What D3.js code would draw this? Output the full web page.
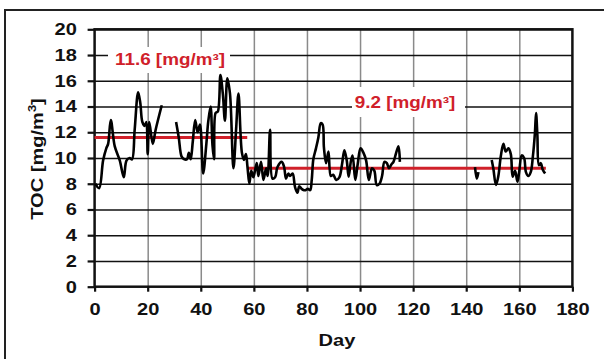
<!DOCTYPE html>
<html><head><meta charset="utf-8">
<script src="https://cdn.jsdelivr.net/npm/d3@7"></script>
<style>
html,body{margin:0;padding:0;background:#fff;}
svg text{font-family:"Liberation Sans",Arial,sans-serif;font-weight:bold;}
</style></head>
<body><svg id="c" width="604" height="359"></svg>
<script>
// ---- data ----
const xTicks = [0,20,40,60,80,100,120,140,160,180];
const yTicks = [0,2,4,6,8,10,12,14,16,18,20];
const days = [0.3,1.7,3.2,4.4,5.1,6.1,7.6,9.5,11.0,12.0,13.2,14.1,15.1,16.4,17.2,18.0,18.9,19.5,20.0,20.6,21.9,23.0,25.3,null,
 30.7,31.7,32.8,33.8,34.8,35.5,36.2,37.0,37.9,38.8,39.7,40.9,42.1,42.8,43.7,44.4,45.0,45.6,46.4,47.4,48.3,49.1,50.0,51.0,52.3,53.3,54.2,55.5,56.3,57.0,57.6,
 58.3,59.0,59.8,60.4,61.1,61.7,62.7,63.6,64.6,65.2,66.1,67.0,68.0,68.9,70.5,71.4,72.1,73.0,73.6,74.6,75.5,76.4,77.1,78.0,78.9,79.5,80.3,81.2,81.8,82.4,83.4,84.3,85.2,85.9,86.4,87.2,88.1,89.0,89.9,
 91.0,92.2,93.2,94.1,95.0,95.7,96.6,97.2,98.2,99.1,100.2,101.3,102.3,103.3,104.5,105.4,106.3,107.3,108.3,109.2,110.1,110.9,111.8,112.6,113.6,114.5,115.0,null,
 143.3,144.0,144.6,null,
 149.6,150.2,151.2,152.1,153.0,154.0,154.9,155.9,156.8,157.5,158.4,159.3,160.0,160.9,161.8,162.5,163.4,164.3,165.1,165.9,166.3,166.8,167.4,168.1,168.8,169.7];
const toc = [8.0,7.65,9.8,10.75,11.1,12.95,10.9,9.8,8.5,9.8,10.0,9.9,12.2,15.1,14.3,12.8,12.5,12.8,10.3,12.8,11.1,12.2,14.1,null,
 12.8,11.6,10.1,9.9,9.9,10.4,9.9,11.3,12.95,12.0,12.6,8.8,11.1,12.8,14.0,11.0,9.9,13.5,13.6,16.45,15.0,12.9,16.2,15.0,9.2,12.2,15.0,10.4,9.85,10.3,9.3,
 8.0,9.0,8.5,9.0,9.6,8.6,9.7,8.3,9.2,8.6,12.2,8.4,8.5,9.3,9.7,9.3,8.4,8.8,8.6,8.8,7.75,7.3,7.8,7.6,7.5,7.5,7.6,7.5,8.3,9.9,10.75,11.6,12.7,12.6,10.8,9.6,10.5,8.6,8.7,
 8.3,8.5,9.5,10.6,9.8,8.55,9.8,10.2,8.3,9.5,10.75,10.4,9.8,8.3,9.2,9.0,7.9,8.0,8.6,9.7,9.6,9.2,9.5,9.7,10.4,10.9,9.7,null,
 9.3,8.4,8.9,null,
 9.85,9.2,7.9,8.6,10.1,11.1,10.5,10.75,10.3,8.55,9.0,8.15,9.0,10.2,10.0,8.9,8.6,8.9,10.1,12.0,13.5,11.8,9.45,9.6,9.1,8.8];
const meanLevels = [11.6, 9.2];
const meanStart = [0, 57.5];
const meanEnd = [57.5, 170];
const meanLabels = ["11.6 [mg/m³]", "9.2 [mg/m³]"];
const xTitle = "Day";
const yTitle = "TOC [mg/m";

// ---- layout ----
const SX = 1.18; // horizontal stretch of the lettering
const svg = d3.select("#c");
const x = d3.scaleLinear().domain([0,180]).range([94.6,572.4]);
const y = d3.scaleLinear().domain([0,20]).range([286.7,29.3]);

// outer frame
svg.append("rect").attr("x",5).attr("y",10).attr("width",640).attr("height",400)
  .attr("fill","none").attr("stroke","#222").attr("stroke-width",2);

// vertical grid (grey)
svg.append("g").attr("transform",`translate(0,${y(0)})`)
  .call(d3.axisBottom(x).tickValues(xTicks.slice(1,-1)).tickSize(-(y(0)-y(20))).tickFormat(""))
  .call(g=>g.select(".domain").remove())
  .call(g=>g.selectAll("line").attr("stroke","#8a8a8a").attr("stroke-width",1.5));
// horizontal grid (black)
svg.append("g").attr("transform",`translate(${x(0)},0)`)
  .call(d3.axisLeft(y).tickValues(yTicks.slice(1)).tickSize(-(x(180)-x(0))).tickFormat(""))
  .call(g=>g.select(".domain").remove())
  .call(g=>g.selectAll("line").attr("stroke","#111").attr("stroke-width",1.6));

// label background boxes
const boxes = [{x0:108,x1:230,y0:47,y1:73},{x0:352,x1:465,y0:87,y1:117}];
svg.selectAll("rect.lb").data(boxes).enter().append("rect").attr("class","lb")
  .attr("x",d=>d.x0).attr("y",d=>d.y0).attr("width",d=>d.x1-d.x0).attr("height",d=>d.y1-d.y0)
  .attr("fill","#fff");

// border
svg.append("rect").attr("x",x(0)).attr("y",y(20)).attr("width",x(180)-x(0)).attr("height",y(0)-y(20))
  .attr("fill","none").attr("stroke","#111").attr("stroke-width",2.5);

// axes
const ya = svg.append("g").attr("transform",`translate(${x(0)},0)`)
  .call(d3.axisLeft(y).tickValues(yTicks).tickSize(7).tickPadding(8));
ya.select(".domain").remove();
ya.selectAll("line").attr("stroke","#111").attr("stroke-width",2.2);
ya.selectAll("text").attr("font-size",17).attr("fill","#111")
  .attr("transform",`scale(${SX},1)`);

const xa = svg.append("g").attr("transform",`translate(0,${y(0)})`)
  .call(d3.axisBottom(x).tickValues(xTicks).tickSize(5).tickPadding(11));
xa.select(".domain").remove();
xa.selectAll("line").attr("stroke","#111").attr("stroke-width",2.2);
xa.selectAll("text").attr("font-size",17).attr("fill","#111")
  .each(function(){ d3.select(this).attr("transform",`scale(${SX},1)`); })
  .attr("x",0);

// titles
svg.append("text").attr("transform",`translate(337,346) scale(${SX},1)`).attr("text-anchor","middle")
  .attr("font-size",17).attr("fill","#111").text(xTitle);
const yt = svg.append("text").attr("transform",`translate(43,159) rotate(-90) scale(${SX},1)`)
  .attr("text-anchor","middle").attr("font-size",17).attr("fill","#111");
yt.append("tspan").text(yTitle);
yt.append("tspan").attr("font-size",11).attr("dy",-7).text("3");
yt.append("tspan").attr("dy",7).text("]");

// mean lines
svg.selectAll("line.mean").data(meanLevels).enter().append("line").attr("class","mean")
  .attr("x1",(d,i)=>x(meanStart[i])).attr("x2",(d,i)=>x(meanEnd[i]))
  .attr("y1",d=>y(d)).attr("y2",d=>y(d))
  .attr("stroke","#d0202a").attr("stroke-width",3);

// data line
const pts = days.map((d,i)=>[d,toc[i]]);
const line = d3.line().defined(d=>d[0]!==null).x(d=>x(d[0])).y(d=>y(d[1]))
  .curve(d3.curveCatmullRom.alpha(0.5));
svg.append("path").datum(pts).attr("d",line).attr("fill","none")
  .attr("stroke","#000").attr("stroke-width",2.6).attr("stroke-linejoin","round");

// mean labels
const labPos = [[170,65],[405,108]];
svg.selectAll("text.ml").data(meanLabels).enter().append("text").attr("class","ml")
  .attr("transform",(d,i)=>`translate(${labPos[i][0]},${labPos[i][1]}) scale(${SX},1)`)
  .attr("text-anchor","middle")
  .attr("font-size",16).attr("fill","#d0202a").text(d=>d);
</script></body></html>
